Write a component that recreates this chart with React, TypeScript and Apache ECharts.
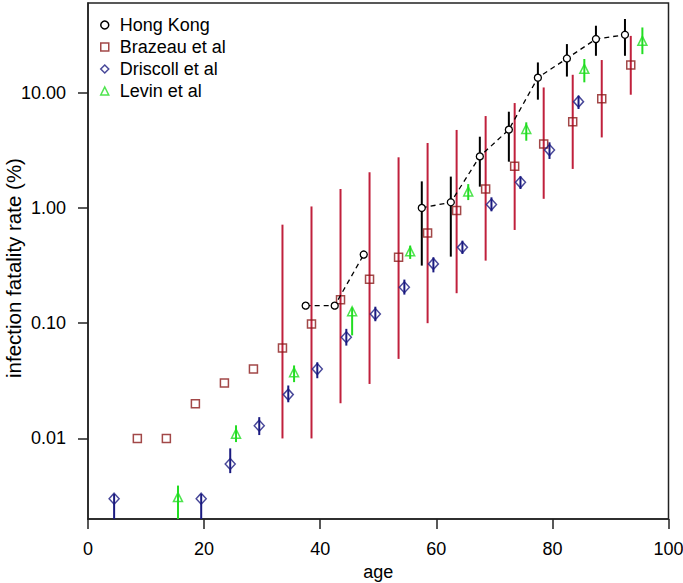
import React, { useEffect, useRef } from 'react';
import * as echarts from 'echarts';

const FONT = 'Liberation Sans, Arial, Helvetica, sans-serif';

// Hong Kong (null = no estimate for that age band)
const hkAges = [37.5, 42.5, 47.5, 52.5, 57.5, 62.5, 67.5, 72.5, 77.5, 82.5, 87.5, 92.5];
const hkRate = [0.142, 0.142, 0.394, null, 1.0, 1.12, 2.8, 4.78, 13.5, 19.8, 29.2, 31.8];
const hkBarAges = [57.5, 62.5, 67.5, 72.5, 77.5, 82.5, 87.5, 92.5];
const hkLow = [0.316, 0.378, 1.53, 2.52, 8.7, 13.8, 20.9, 20.9];
const hkHigh = [1.7, 1.87, 4.15, 6.84, 18.3, 26.4, 38.1, 43.6];

// Brazeau et al
const brAges = [8.5, 13.5, 18.5, 23.5, 28.5, 33.5, 38.5, 43.5, 48.5, 53.5, 58.5, 63.5, 68.5, 73.5, 78.5, 83.5, 88.5, 93.5];
const brRate = [0.01, 0.01, 0.02, 0.0303, 0.0401, 0.061, 0.0985, 0.16, 0.24, 0.373, 0.607, 0.95, 1.46, 2.3, 3.59, 5.6, 8.87, 17.4];
const brBarAges = [33.5, 38.5, 43.5, 48.5, 53.5, 58.5, 63.5, 68.5, 73.5, 78.5, 83.5, 88.5, 93.5];
const brLow = [0.01, 0.01, 0.0202, 0.0297, 0.049, 0.1, 0.182, 0.349, 0.644, 1.2, 2.18, 4.09, 9.6];
const brHigh = [0.716, 1.03, 1.46, 2.04, 2.75, 3.66, 4.75, 6.27, 8.13, 11.1, 14.3, 19.2, 31.1];

// Driscoll et al
const drAges = [4.5, 19.5, 24.5, 29.5, 34.5, 39.5, 44.5, 49.5, 54.5, 59.5, 64.5, 69.5, 74.5, 79.5, 84.5];
const drRate = [0.003, 0.003, 0.006, 0.0129, 0.024, 0.04, 0.0755, 0.12, 0.205, 0.327, 0.455, 1.07, 1.67, 3.18, 8.36];
const drLow = [0.002, 0.002, 0.005, 0.0107, 0.0206, 0.0333, 0.0639, 0.104, 0.177, 0.276, 0.399, 0.935, 1.46, 2.66, 7.22];
const drHigh = [0.0033, 0.0033, 0.0082, 0.0153, 0.0288, 0.0458, 0.0893, 0.139, 0.239, 0.373, 0.52, 1.236, 1.88, 3.71, 9.42];

// Levin et al
const lvAges = [15.5, 25.5, 35.5, 45.5, 55.5, 65.5, 75.5, 85.5, 95.5];
const lvRate = [0.0031, 0.011, 0.0375, 0.127, 0.42, 1.39, 4.84, 16.1, 28.2];
const lvLow = [0.002, 0.0093, 0.0308, 0.0784, 0.361, 1.17, 3.83, 12.3, 21.6];
const lvHigh = [0.0039, 0.013, 0.043, 0.137, 0.471, 1.61, 5.53, 19.6, 36.8];

const yTicks = [0.01, 0.1, 1, 10];

const C_HK = '#000000';
const C_BR = '#8B1A1A';
const C_BR_BAR = '#C0203C';
const C_DR = '#1A1A80';
const C_LV = '#22DD22';

function errorBars(name: string, ages: number[], low: number[], high: number[], color: string, width: number) {
  return {
    type: 'custom',
    name,
    silent: true,
    data: ages.map((a, i) => [a, low[i], high[i]]),
    encode: { x: 0, y: [1, 2] },
    renderItem: (params: any, api: any) => {
      const x = api.value(0);
      const p1 = api.coord([x, api.value(1)]);
      const p2 = api.coord([x, api.value(2)]);
      return {
        type: 'line',
        shape: { x1: p1[0], y1: p1[1], x2: p2[0], y2: p2[1] },
        style: { stroke: color, lineWidth: width },
      };
    },
  };
}

export default function App() {
  const ref = useRef<HTMLDivElement>(null);
  useEffect(() => {
    document.body.style.margin = '0';
    if (!ref.current) return;
    const chart = echarts.init(ref.current, undefined, { renderer: 'svg' });
    const axisLine = { show: true, lineStyle: { color: '#222', width: 1.5 } };
    chart.setOption({
      animation: false,
      backgroundColor: '#ffffff',
      grid: {
        left: 88,
        right: 14.5,
        top: 3,
        bottom: 64,
        containLabel: false,
        outerBoundsMode: 'none',
        show: true,
        borderColor: '#222',
        borderWidth: 1.5,
      },
      legend: {
        orient: 'vertical',
        left: 100,
        top: 16,
        padding: 0,
        itemWidth: 8,
        itemHeight: 8,
        itemGap: 4,
        selectedMode: false,
        textStyle: { fontSize: 18, color: '#000', fontFamily: FONT, padding: [0, 0, 0, 6] },
        data: [
          { name: 'Hong Kong', icon: 'circle', itemStyle: { color: 'rgba(0,0,0,0)', borderColor: C_HK, borderWidth: 1.5 } },
          { name: 'Brazeau et al', icon: 'rect', itemStyle: { color: 'rgba(0,0,0,0)', borderColor: C_BR, borderWidth: 1.5 } },
          { name: 'Driscoll et al', icon: 'diamond', itemStyle: { color: 'rgba(0,0,0,0)', borderColor: C_DR, borderWidth: 1.5 } },
          { name: 'Levin et al', icon: 'triangle', itemStyle: { color: 'rgba(0,0,0,0)', borderColor: C_LV, borderWidth: 1.5 } },
        ],
      },
      xAxis: {
        type: 'value',
        min: 0,
        max: 100,
        interval: 20,
        name: 'age',
        nameLocation: 'middle',
        nameGap: 44,
        nameMoveOverlap: false,
        nameTextStyle: { fontSize: 18, color: '#000', fontFamily: FONT },
        axisLine,
        axisTick: { show: true, length: 10, lineStyle: { color: '#222', width: 1.5 } },
        axisLabel: { fontSize: 18, color: '#000', fontFamily: FONT, margin: 21 },
        splitLine: { show: false },
      },
      yAxis: {
        type: 'log',
        logBase: 10,
        min: 0.002,
        max: 60,
        name: 'infection fatality rate (%)',
        nameLocation: 'middle',
        nameGap: 64,
        nameMoveOverlap: false,
        nameTextStyle: { fontSize: 20.5, color: '#000', fontFamily: FONT, padding: [0, 14, 0, 0] },
        axisLine,
        axisTick: { show: true, length: 10, lineStyle: { color: '#222', width: 1.5 }, customValues: yTicks },
        axisLabel: {
          fontSize: 18,
          color: '#000',
          fontFamily: FONT,
          margin: 22,
          customValues: yTicks,
          formatter: (v: number) => Number(v).toFixed(2),
        },
        splitLine: { show: false },
      },
      series: [
        {
          type: 'line',
          name: 'Hong Kong',
          data: hkAges.map((a, i) => [a, hkRate[i]]),
          symbol: 'circle',
          symbolSize: 7,
          connectNulls: false,
          itemStyle: { color: '#ffffff', borderColor: C_HK, borderWidth: 1.3 },
          lineStyle: { color: C_HK, width: 1.3, type: [5, 4] },
        },
        errorBars('hk-err', hkBarAges, hkLow, hkHigh, C_HK, 2),
        errorBars('br-err', brBarAges, brLow, brHigh, C_BR_BAR, 2),
        {
          type: 'scatter',
          name: 'Brazeau et al',
          data: brAges.map((a, i) => [a, brRate[i]]),
          symbol: 'rect',
          symbolSize: 8,
          itemStyle: { color: 'rgba(0,0,0,0)', borderColor: C_BR, borderWidth: 1.5 },
        },
        errorBars('dr-err', drAges, drLow, drHigh, C_DR, 2),
        {
          type: 'scatter',
          name: 'Driscoll et al',
          data: drAges.map((a, i) => [a, drRate[i]]),
          symbol: 'diamond',
          symbolSize: [10, 11],
          itemStyle: { color: 'rgba(0,0,0,0)', borderColor: C_DR, borderWidth: 1.5 },
        },
        errorBars('lv-err', lvAges, lvLow, lvHigh, C_LV, 2),
        {
          type: 'scatter',
          name: 'Levin et al',
          data: lvAges.map((a, i) => [a, lvRate[i]]),
          symbol: 'triangle',
          symbolSize: 9,
          itemStyle: { color: 'rgba(0,0,0,0)', borderColor: C_LV, borderWidth: 1.5 },
        },
      ],
    });
    return () => chart.dispose();
  }, []);
  return <div ref={ref} style={{ position: 'fixed', left: 0, top: 0, width: 683, height: 583, background: '#fff' }} />;
}
